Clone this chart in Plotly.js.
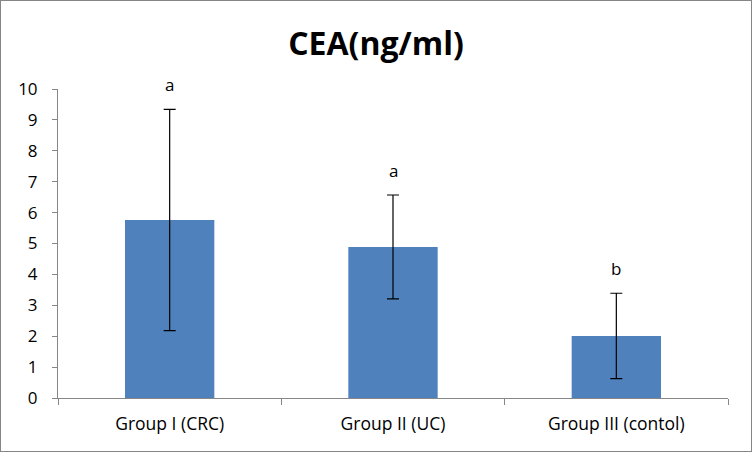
<!DOCTYPE html>
<html>
<head>
<meta charset="utf-8">
<script src="https://cdn.plot.ly/plotly-3.0.1.min.js"></script>
<style>
html,body{margin:0;padding:0;background:#fff;}
#chart{width:750px;height:450px;border:1px solid #868686;}
</style>
</head>
<body>
<div id="chart"></div>
<script>
const categories = ["Group I (CRC)", "Group II (UC)", "Group III (contol)"];
const means = [5.76, 4.89, 2.01];
const errors = [3.58, 1.68, 1.38];
const letters = ["a", "a", "b"];

const trace = {
  type: "bar",
  x: categories,
  y: means,
  marker: {color: "#4F81BD"},
  error_y: {type: "data", array: errors, visible: true, color: "#000", thickness: 1.2, width: 6},
  hoverinfo: "none"
};

const annotations = categories.map((c, i) => ({
  x: c, y: means[i] + errors[i], xref: "x", yref: "y",
  text: letters[i], showarrow: false, yanchor: "bottom", yshift: 11,
  font: {family: "Open Sans, Liberation Sans, sans-serif", size: 17, color: "#000"}
}));

const layout = {
  width: 750, height: 450,
  margin: {l: 57, r: 23, t: 88, b: 53},
  paper_bgcolor: "#fff", plot_bgcolor: "#fff",
  title: {text: "<b>CEA(ng/ml)</b>", x: 0.5, xref: "container", xanchor: "center", y: 0.905, yanchor: "middle",
          font: {family: "Open Sans, Liberation Sans, sans-serif", size: 32, color: "#000"}},
  showlegend: false,
  bargap: 0.6,
  xaxis: {
    showline: true, linecolor: "#868686", linewidth: 1,
    ticks: "outside", tickson: "boundaries", ticklen: 6, tickcolor: "#868686",
    showgrid: false, zeroline: false,
    tickfont: {family: "Open Sans, Liberation Sans, sans-serif", size: 17.5, color: "#000"},
    ticklabelstandoff: 10
  },
  yaxis: {
    range: [0, 10], dtick: 1,
    showline: true, linecolor: "#868686", linewidth: 1,
    ticks: "outside", ticklen: 5, tickcolor: "#868686",
    showgrid: false, zeroline: false,
    tickfont: {family: "Open Sans, Liberation Sans, sans-serif", size: 17, color: "#000"},
    ticklabelstandoff: 11
  },
  annotations: annotations
};

Plotly.newPlot("chart", [trace], layout, {staticPlot: true, displayModeBar: false});
</script>
</body>
</html>
